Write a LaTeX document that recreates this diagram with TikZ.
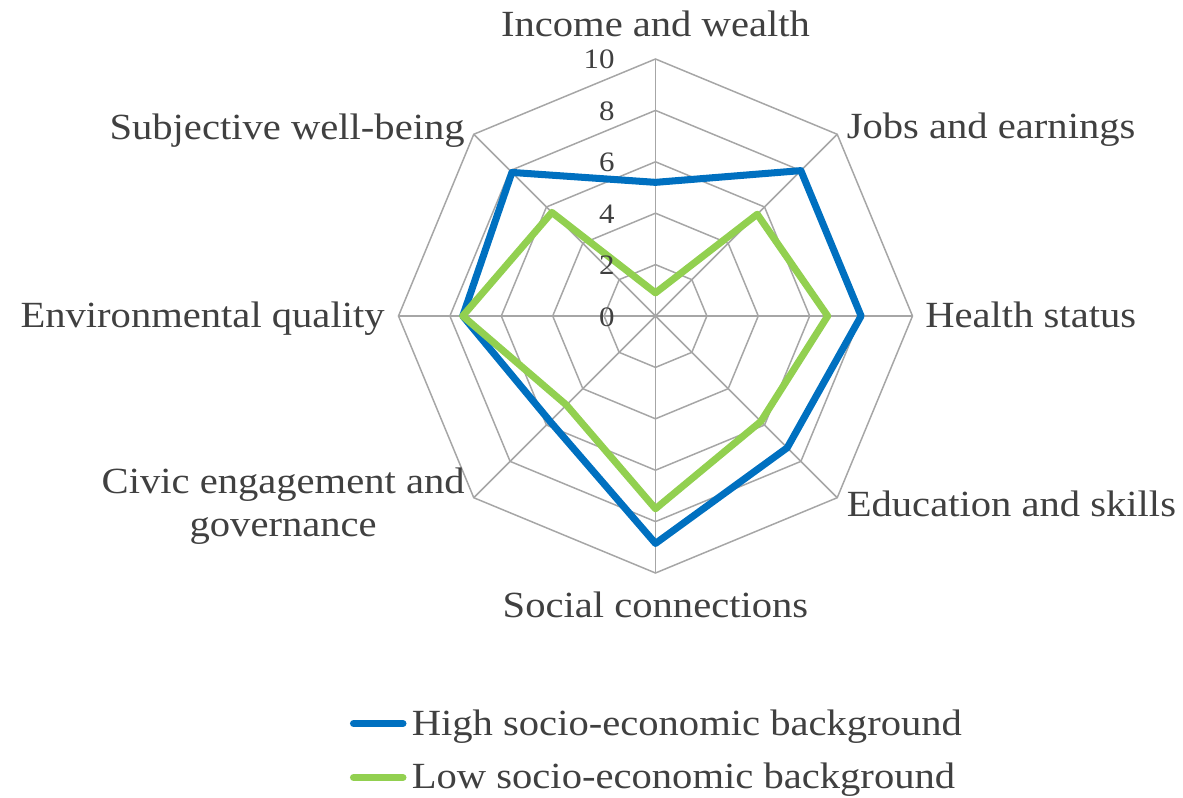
\documentclass[tikz,border=0pt]{standalone}
\usepackage{fontspec}
\setmainfont[FakeStretch=1.1]{Liberation Serif}

\definecolor{hiblue}{HTML}{0070C0}
\definecolor{logreen}{HTML}{92D050}
\definecolor{gridgray}{HTML}{A6A6A6}
\definecolor{labelgray}{HTML}{404040}

\begin{document}
\begin{tikzpicture}[
    grid/.style={gridgray, line width=0.85pt},
    series/.style={line width=4pt, line join=round},
    axislabel/.style={text=labelgray, font=\fontsize{21}{24}\selectfont, inner sep=0pt},
    ticklabel/.style={text=labelgray, font=\fontsize{16}{18}\selectfont, inner sep=0pt}
  ]
   \useasboundingbox (-13.11,-9.64) rectangle (10.55,6.32);
   % web
   \foreach \a in {0,45,...,315}
    \draw[grid] (0,0) -- (\a:5.14);
   \foreach \r in {1.028,2.056,3.084,4.112,5.14}
    \draw[grid] (0:\r) \foreach \a in {45,90,...,315} {-- (\a:\r)} -- cycle;
   % data, clockwise from the top
   \foreach \v [count=\i] in {5.2,8.0,8.0,7.25,8.85,5.8,7.5,7.9}
    \coordinate (hi\i) at ({135-45*\i}:{\v*0.514});
   \foreach \v [count=\i] in {0.9,5.6,6.7,5.8,7.5,4.9,7.5,5.7}
    \coordinate (lo\i) at ({135-45*\i}:{\v*0.514});
   \draw[series, hiblue] (hi1) -- (hi2) -- (hi3) -- (hi4) -- (hi5) -- (hi6) -- (hi7) -- (hi8) -- cycle;
   \draw[series, logreen] (lo1) -- (lo2) -- (lo3) -- (lo4) -- (lo5) -- (lo6) -- (lo7) -- (lo8) -- cycle;
   % scale
   \foreach \t [count=\k from 0] in {0,2,4,6,8,10}
    \node[ticklabel, anchor=base east] (tick\t) at (-0.81,\k*1.028-0.2) {\t};
   % axis names
   \node[axislabel, anchor=base] (income) at (0,5.58) {Income and wealth};
   \node[axislabel, anchor=base west] (jobs) at (3.82,3.55) {Jobs and earnings};
   \node[axislabel, anchor=base west] (health) at (5.39,-0.23) {Health status};
   \node[axislabel, anchor=base west] (educ) at (3.82,-4.01) {Education and skills};
   \node[axislabel, anchor=base] (social) at (0,-6.03) {Social connections};
   \node[axislabel, anchor=north east, align=center] (civic) at (-3.81,-3.04) {Civic engagement and\\governance};
   \node[axislabel, anchor=base east] (env) at (-5.41,-0.23) {Environmental quality};
   \node[axislabel, anchor=base east] (subj) at (-3.81,3.53) {Subjective well-being};
   % legend
   \coordinate (hikeyA) at (-6.04,-8.15);
   \coordinate (hikeyB) at (-5.05,-8.15);
   \coordinate (lokeyA) at (-6.04,-9.23);
   \coordinate (lokeyB) at (-5.05,-9.23);
   \draw[series, hiblue, line cap=round] (hikeyA) -- (hikeyB);
   \draw[series, logreen, line cap=round] (lokeyA) -- (lokeyB);
   \node[axislabel, anchor=base west] (hikey) at (-4.88,-8.38) {High socio-economic background};
   \node[axislabel, anchor=base west] (lokey) at (-4.88,-9.45) {Low socio-economic background};
  \end{tikzpicture}
\end{document}
